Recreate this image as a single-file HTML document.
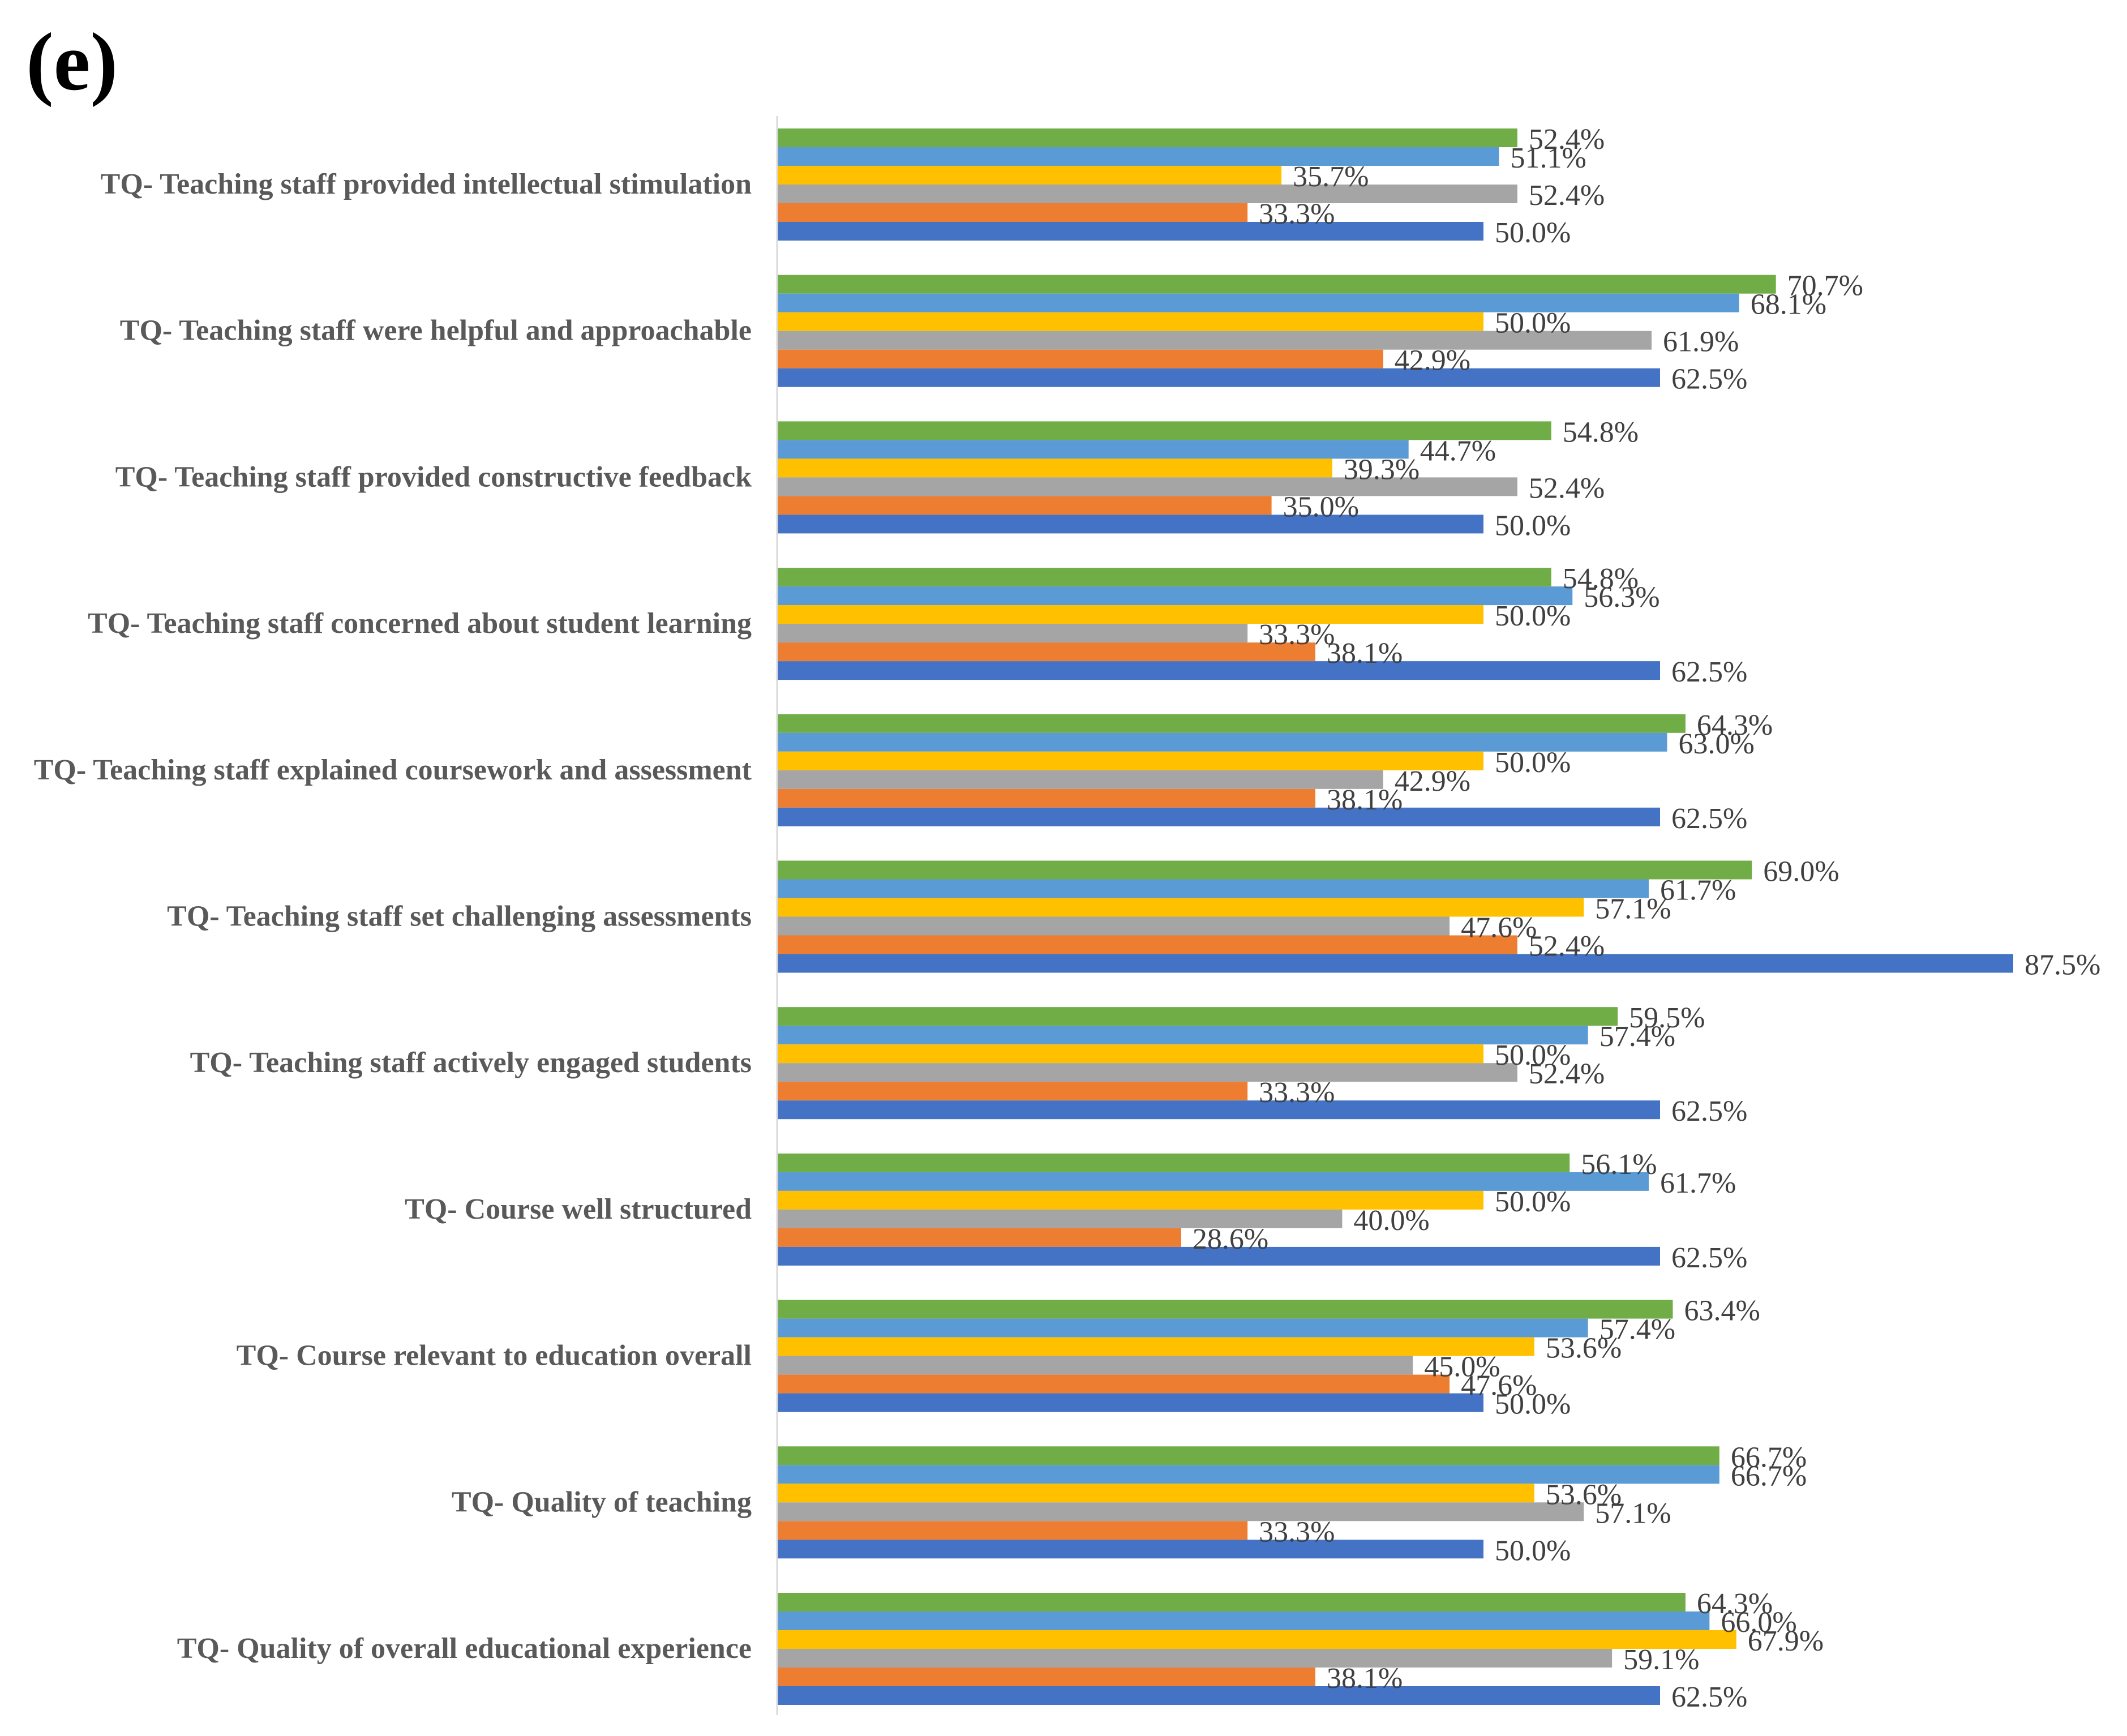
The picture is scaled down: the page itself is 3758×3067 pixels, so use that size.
<!DOCTYPE html>
<html lang="en">
<head>
<meta charset="utf-8">
<title>Teaching quality bar chart (e)</title>
<style>
html,body{margin:0;padding:0;background:#fff;}
body{width:3758px;height:3067px;overflow:hidden;}
svg{display:block;}
text{font-family:"Liberation Serif","Times New Roman",serif;}
</style>
</head>
<body>
<svg id="chart" xmlns="http://www.w3.org/2000/svg" width="3758" height="3067" viewBox="0 0 3758 3067">
  <rect x="0" y="0" width="3758" height="3067" fill="#ffffff"/>
  <text x="46" y="158" font-size="146" font-weight="700" fill="#000000">(e)</text>
</svg>
<script>
const categories = [
  "TQ- Teaching staff provided intellectual stimulation",
  "TQ- Teaching staff were helpful and approachable",
  "TQ- Teaching staff provided constructive feedback",
  "TQ- Teaching staff concerned about student learning",
  "TQ- Teaching staff explained coursework and assessment",
  "TQ- Teaching staff set challenging assessments",
  "TQ- Teaching staff actively engaged students",
  "TQ- Course well structured",
  "TQ- Course relevant to education overall",
  "TQ- Quality of teaching",
  "TQ- Quality of overall educational experience"
];
const greenValues = [52.4,70.7,54.8,54.8,64.3,69.0,59.5,56.1,63.4,66.7,64.3];
const lightBlueValues = [51.1,68.1,44.7,56.3,63.0,61.7,57.4,61.7,57.4,66.7,66.0];
const yellowValues = [35.7,50.0,39.3,50.0,50.0,57.1,50.0,50.0,53.6,53.6,67.9];
const grayValues = [52.4,61.9,52.4,33.3,42.9,47.6,52.4,40.0,45.0,57.1,59.1];
const orangeValues = [33.3,42.9,35.0,38.1,38.1,52.4,33.3,28.6,47.6,33.3,38.1];
const blueValues = [50.0,62.5,50.0,62.5,62.5,87.5,62.5,62.5,50.0,50.0,62.5];

const seriesList = [
  {key:"green", color:"#70AD47", values:greenValues},
  {key:"light-blue", color:"#5B9BD5", values:lightBlueValues},
  {key:"yellow", color:"#FFC000", values:yellowValues},
  {key:"gray", color:"#A5A5A5", values:grayValues},
  {key:"orange", color:"#ED7D31", values:orangeValues},
  {key:"blue", color:"#4472C4", values:blueValues}
];

const svg = document.getElementById("chart");
const NS = "http://www.w3.org/2000/svg";
const axisX = 1373;
const pxPerPercent = 24.96;
const firstGroupTop = 227;
const groupPitch = 258.7;
const barHeight = 33;

function xScale(v){ return axisX + v * pxPerPercent; }
function groupTop(i){ return firstGroupTop + i * groupPitch; }
function barTop(i, s){ return groupTop(i) + s * barHeight; }
function groupCenter(i){ return groupTop(i) + barHeight * seriesList.length / 2; }

const barsLayer = document.createElementNS(NS, "g");


svg.appendChild(barsLayer);

const axisLine = document.createElementNS(NS, "line");


axisLine.setAttribute("x1", axisX);
axisLine.setAttribute("x2", axisX);
axisLine.setAttribute("y1", 205);
axisLine.setAttribute("y2", 3030);
axisLine.setAttribute("stroke", "#d9d9d9");
axisLine.setAttribute("stroke-width", "3");
svg.appendChild(axisLine);

const labelsLayer = document.createElementNS(NS, "g");


svg.appendChild(labelsLayer);

const categoryLayer = document.createElementNS(NS, "g");


svg.appendChild(categoryLayer);

categories.forEach(function(cat, i){
  const t = document.createElementNS(NS, "text");
  
  
  t.setAttribute("x", 1328);
  t.setAttribute("y", groupCenter(i) + 16);
  t.setAttribute("text-anchor", "end");
  t.setAttribute("font-size", "52");
  t.setAttribute("font-weight", "700");
  t.setAttribute("fill", "#595959");
  t.textContent = cat;
  categoryLayer.appendChild(t);

  seriesList.forEach(function(series, s){
    const v = series.values[i];
    const r = document.createElementNS(NS, "rect");
    
    
    r.setAttribute("x", axisX);
    r.setAttribute("y", barTop(i, s));
    r.setAttribute("width", xScale(v) - axisX);
    r.setAttribute("height", barHeight);
    r.setAttribute("fill", series.color);
    barsLayer.appendChild(r);

    const l = document.createElementNS(NS, "text");
    
    
    l.setAttribute("x", xScale(v) + 20);
    l.setAttribute("y", barTop(i, s) + barHeight / 2 + 19.5);
    l.setAttribute("font-size", "52");
    l.setAttribute("fill", "#404040");
    l.textContent = v.toFixed(1) + "%";
    labelsLayer.appendChild(l);
  });
});
</script>
</body>
</html>
